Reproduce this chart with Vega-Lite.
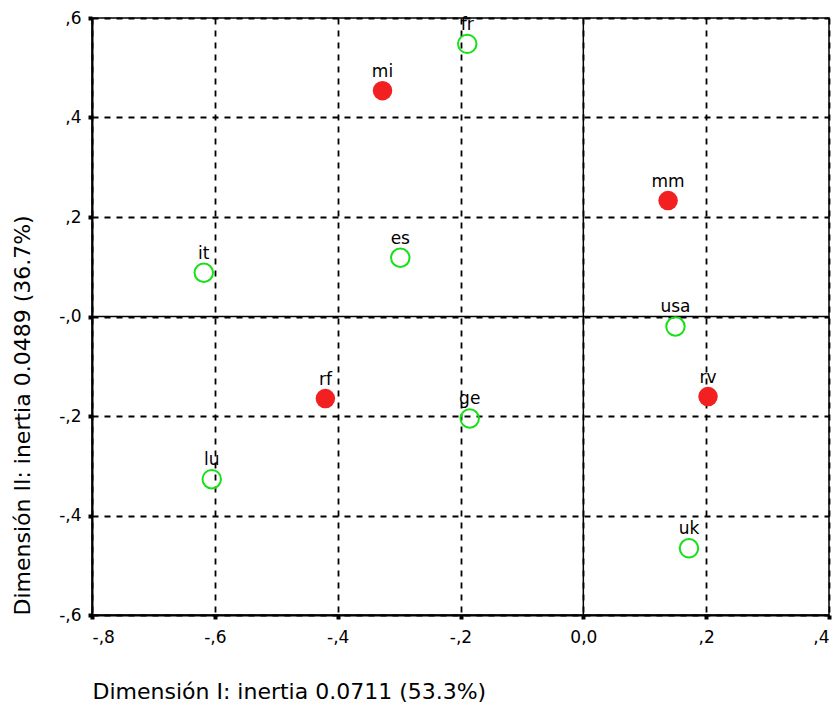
{
  "$schema": "https://vega.github.io/schema/vega-lite/v6.json",
  "autosize": "none",
  "width": 737,
  "height": 597,
  "padding": {"left": 92, "top": 18, "right": 7, "bottom": 102},
  "background": "white",
  "config": {
    "view": {"stroke": "black", "strokeWidth": 1.5},
    "font": "DejaVu Sans"
  },
  "datasets": {
    "pts": [
      {"label": "fr", "dim1": -0.189, "dim2": 0.548, "type": "country"},
      {"label": "mi", "dim1": -0.327, "dim2": 0.454, "type": "var"},
      {"label": "mm", "dim1": 0.138, "dim2": 0.233, "type": "var"},
      {"label": "it", "dim1": -0.618, "dim2": 0.088, "type": "country"},
      {"label": "es", "dim1": -0.298, "dim2": 0.118, "type": "country"},
      {"label": "usa", "dim1": 0.150, "dim2": -0.020, "type": "country"},
      {"label": "rf", "dim1": -0.420, "dim2": -0.165, "type": "var"},
      {"label": "ge", "dim1": -0.185, "dim2": -0.205, "type": "country"},
      {"label": "rv", "dim1": 0.203, "dim2": -0.161, "type": "var"},
      {"label": "lu", "dim1": -0.605, "dim2": -0.327, "type": "country"},
      {"label": "uk", "dim1": 0.172, "dim2": -0.466, "type": "country"}
    ]
  },
  "layer": [
    {
      "data": {"values": [{"z": 0}]},
      "mark": {"type": "rule", "color": "black", "strokeWidth": 1.5},
      "encoding": {
        "x": {
          "field": "z", "type": "quantitative",
          "scale": {"domain": [-0.8, 0.4], "nice": false, "zero": false},
          "axis": {
            "values": [-0.8, -0.6, -0.4, -0.2, 0, 0.2, 0.4],
            "labelExpr": "datum.value == 0 ? '0,0' : (datum.value < 0 ? '-' : '') + ',' + format(abs(datum.value) * 10, '.0f')",
            "title": "Dimensión I: inertia 0.0711 (53.3%)",
            "titleAnchor": "start",
            "titleFontSize": 22,
            "titleFontWeight": "normal",
            "titleColor": "black",
            "titlePadding": 36,
            "labelFontSize": 17,
            "labelColor": "black",
            "labelPadding": 10,
            "domainColor": "black",
            "domainWidth": 2,
            "tickColor": "black",
            "tickSize": 4,
            "tickWidth": 4,
            "grid": true,
            "gridColor": "black",
            "gridDash": [6, 6],
            "gridWidth": 1.8,
            "gridOpacity": 1
          }
        }
      }
    },
    {
      "data": {"values": [{"z": 0}]},
      "mark": {"type": "rule", "color": "black", "strokeWidth": 1.5},
      "encoding": {
        "y": {
          "field": "z", "type": "quantitative",
          "scale": {"domain": [-0.6, 0.6], "nice": false, "zero": false},
          "axis": {
            "values": [-0.6, -0.4, -0.2, 0, 0.2, 0.4, 0.6],
            "labelExpr": "datum.value == 0 ? '-,0' : (datum.value < 0 ? '-' : '') + ',' + format(abs(datum.value) * 10, '.0f')",
            "title": "Dimensión II: inertia 0.0489 (36.7%)",
            "titleAnchor": "start",
            "titleFontSize": 22,
            "titleFontWeight": "normal",
            "titleColor": "black",
            "titlePadding": 24,
            "labelFontSize": 17,
            "labelColor": "black",
            "labelPadding": 7,
            "domainColor": "black",
            "domainWidth": 2,
            "tickColor": "black",
            "tickSize": 4,
            "tickWidth": 4,
            "grid": true,
            "gridColor": "black",
            "gridDash": [6, 6],
            "gridWidth": 1.8,
            "gridOpacity": 1
          }
        }
      }
    },
    {
      "data": {"name": "pts"},
      "transform": [{"filter": "datum.type == 'var'"}],
      "mark": {"type": "point", "shape": "circle", "filled": true, "size": 380, "color": "#f22020", "opacity": 1},
      "encoding": {
        "x": {"field": "dim1", "type": "quantitative"},
        "y": {"field": "dim2", "type": "quantitative"}
      }
    },
    {
      "data": {"name": "pts"},
      "transform": [{"filter": "datum.type == 'country'"}],
      "mark": {"type": "point", "shape": "circle", "filled": false, "size": 340, "color": "#16e016", "strokeWidth": 2, "opacity": 1},
      "encoding": {
        "x": {"field": "dim1", "type": "quantitative"},
        "y": {"field": "dim2", "type": "quantitative"}
      }
    },
    {
      "data": {"name": "pts"},
      "mark": {"type": "text", "baseline": "bottom", "align": "center", "dy": -10, "fontSize": 17, "color": "black"},
      "encoding": {
        "x": {"field": "dim1", "type": "quantitative"},
        "y": {"field": "dim2", "type": "quantitative"},
        "text": {"field": "label"}
      }
    }
  ]
}
